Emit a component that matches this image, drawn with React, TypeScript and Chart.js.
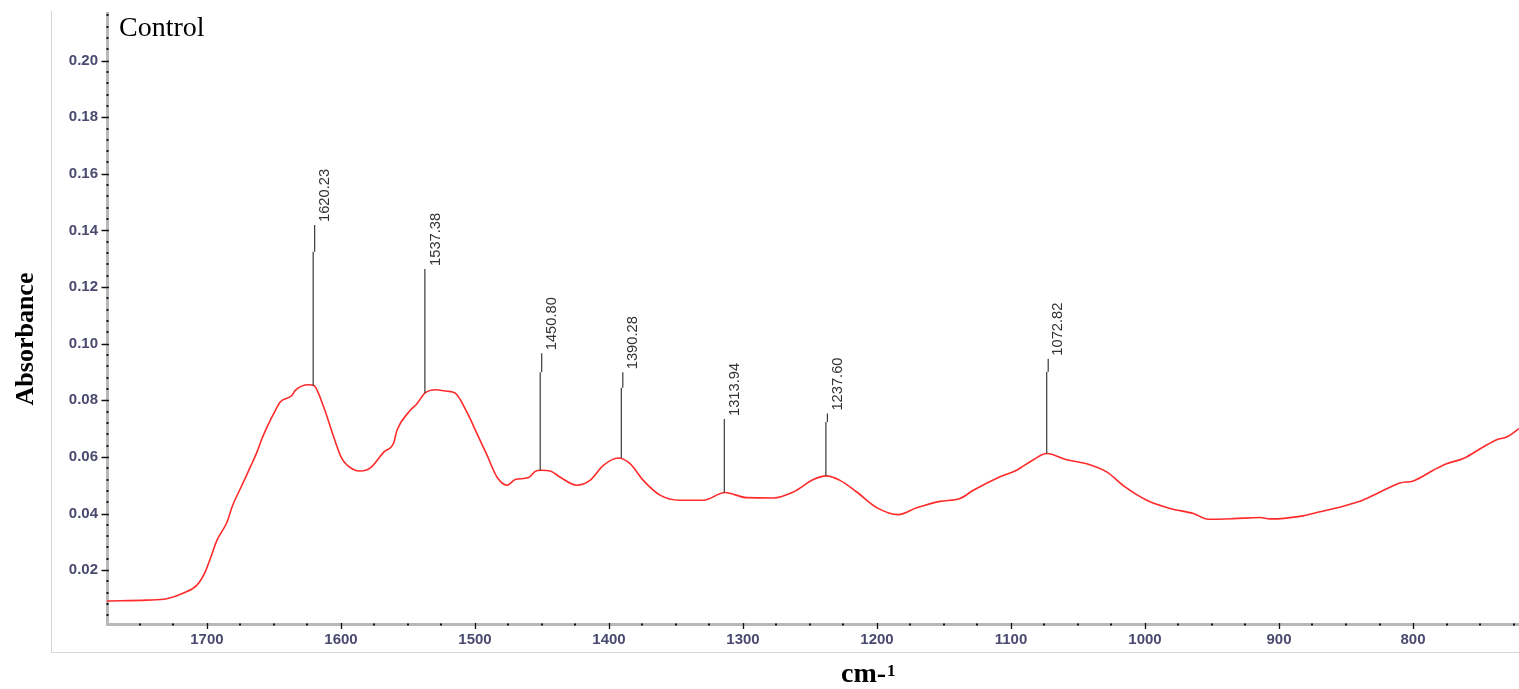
import { useEffect, useRef } from "react";
import { Chart, registerables } from "chart.js";

Chart.register(...registerables);

// Spectrum (wavenumber cm-1, absorbance)
const wavenumbers = [
  1774.6, 1745, 1730, 1717, 1707.5, 1701.3, 1697.5, 1692.5, 1685, 1681.3,
  1673.9, 1667.7, 1662.7, 1659, 1652.8, 1650.2, 1645.3, 1636.6, 1634.1, 1624.1,
  1620.2, 1612.9, 1605.4, 1599.3, 1590.5, 1585.6, 1578.1, 1568.1, 1560.7, 1558.2,
  1549.5, 1543.3, 1537.4, 1529.6, 1520.9, 1514.7, 1506, 1498.5, 1491, 1483.6,
  1476.1, 1469.9, 1459.9, 1455, 1450.8, 1443.8, 1436.6, 1424.1, 1414.2, 1404.2,
  1393.1, 1384.3, 1374.4, 1361.9, 1347, 1329.6, 1313.4, 1297.2, 1277.4, 1262.5,
  1247.5, 1238, 1227.6, 1215.1, 1200.2, 1184.1, 1170.4, 1153, 1138.1, 1128.1,
  1108.2, 1095.8, 1083.3, 1073.4, 1058.4, 1043.5, 1028.6, 1014.9, 998.7, 981.3,
  963.9, 952.7, 934.1, 914.2, 906.7, 884.3, 869.4, 852, 839.6, 827.1,
  809.7, 799.8, 784.9, 774.9, 762.5, 747.6, 737.5, 730.1, 720.9,
];
const absorbance = [
  0.0091, 0.0094, 0.0099, 0.012, 0.0147, 0.0194, 0.0241, 0.0306, 0.037, 0.0423,
  0.05, 0.0564, 0.0617, 0.0664, 0.0729, 0.0753, 0.0794, 0.0817, 0.0835, 0.0855,
  0.0852, 0.0776, 0.067, 0.0594, 0.0555, 0.055, 0.0561, 0.0617, 0.0649, 0.0694,
  0.0758, 0.0788, 0.0825, 0.0837, 0.0832, 0.0825, 0.0758, 0.0682, 0.0606, 0.0529,
  0.05, 0.052, 0.0527, 0.0549, 0.0553, 0.055, 0.0529, 0.05, 0.0517, 0.057,
  0.0596, 0.0576, 0.0517, 0.0465, 0.0447, 0.0447, 0.0474, 0.0456, 0.0455, 0.0476,
  0.052, 0.0533, 0.0517, 0.0476, 0.0421, 0.0396, 0.042, 0.0443, 0.0453, 0.0482,
  0.053, 0.0553, 0.059, 0.0612, 0.059, 0.0576, 0.0547, 0.0494, 0.0447, 0.0418,
  0.04, 0.038, 0.0382, 0.0386, 0.0381, 0.039, 0.0406, 0.0426, 0.0443, 0.047,
  0.0508, 0.0515, 0.0553, 0.0576, 0.0594, 0.0635, 0.0661, 0.067, 0.07,
];

// Peak annotations
const peakPositions = [1620.23, 1537.38, 1450.8, 1390.28, 1313.94, 1237.6, 1072.82];
const peakLabels = ["1620.23", "1537.38", "1450.80", "1390.28", "1313.94", "1237.60", "1072.82"];
const peakBase = [0.0852, 0.0826, 0.0553, 0.0596, 0.0474, 0.0533, 0.0612];
const peakTop = [0.1419, 0.1264, 0.0966, 0.0899, 0.0734, 0.0753, 0.0947];
const peakJog: (number | null)[] = [0.1325, null, 0.0899, 0.0844, null, 0.0723, 0.0901];

// Axes
const yTickValues = [0.02, 0.04, 0.06, 0.08, 0.1, 0.12, 0.14, 0.16, 0.18, 0.2];
const xTickValues = [1700, 1600, 1500, 1400, 1300, 1200, 1100, 1000, 900, 800];
const yMinorStep = 0.004;
const xMinorStep = 25;
const yMin = 0.0008;
const yMax = 0.2168;
const xMin = 720.9;
const xMax = 1774.6;

const titleY = "Absorbance";
const titleX = "cm-";
const titleXSup = "1";
const sampleName = "Control";

const SANS = '"Liberation Sans", Arial, sans-serif';
const SERIF = '"Liberation Serif", "Times New Roman", serif';

const overlayPlugin = {
  id: "overlay",
  beforeDraw(chart: any) {
    const { ctx, width, height } = chart;
    ctx.save();
    ctx.fillStyle = "#ffffff";
    ctx.fillRect(0, 0, width, height);
    ctx.strokeStyle = "#d6d6d6";
    ctx.lineWidth = 1;
    ctx.beginPath();
    ctx.moveTo(51.5, 11);
    ctx.lineTo(51.5, 652.5);
    ctx.lineTo(width, 652.5);
    ctx.stroke();
    ctx.restore();
  },
  afterDraw(chart: any) {
    const { ctx } = chart;
    const xs = chart.scales.x;
    const ys = chart.scales.y;
    const bandX = 107.5;
    const bandY = 624.5;
    ctx.save();
    // minor ticks
    ctx.fillStyle = "#111";
    for (let k = 1; k * yMinorStep <= yMax; k++) {
      if (k % 5 === 0) continue;
      const py = Math.round(ys.getPixelForValue(k * yMinorStep));
      ctx.fillRect(bandX - 1, py - 1, 2, 2);
    }
    for (let v = Math.ceil(xMin / xMinorStep) * xMinorStep; v <= xMax; v += xMinorStep) {
      if (v % 100 === 0) continue;
      const px = Math.round(xs.getPixelForValue(v));
      ctx.fillRect(px - 1, bandY - 1, 2, 2);
    }
    // major ticks
    ctx.strokeStyle = "#111";
    ctx.lineWidth = 1.3;
    ctx.beginPath();
    yTickValues.forEach((v) => {
      const py = Math.round(ys.getPixelForValue(v)) + 0.5;
      ctx.moveTo(101.5, py);
      ctx.lineTo(109, py);
    });
    xTickValues.forEach((v) => {
      const px = Math.round(xs.getPixelForValue(v)) + 0.5;
      ctx.moveTo(px, 623);
      ctx.lineTo(px, 629);
    });
    ctx.stroke();

    // peak markers
    ctx.strokeStyle = "#3a3a3a";
    ctx.lineWidth = 1.2;
    ctx.fillStyle = "#333";
    ctx.font = `14.7px ${SANS}`;
    peakPositions.forEach((pos, i) => {
      const px = xs.getPixelForValue(pos);
      const yb = ys.getPixelForValue(peakBase[i]);
      const yt = ys.getPixelForValue(peakTop[i]);
      const jog = peakJog[i];
      ctx.beginPath();
      if (jog !== null) {
        const yj = ys.getPixelForValue(jog);
        ctx.moveTo(px - 0.7, yb);
        ctx.lineTo(px - 0.7, yj);
        ctx.moveTo(px + 0.8, yj);
        ctx.lineTo(px + 0.8, yt);
      } else {
        ctx.moveTo(px, yb);
        ctx.lineTo(px, yt);
      }
      ctx.stroke();
      ctx.save();
      ctx.translate(px + 11, yt - 3);
      ctx.rotate(-Math.PI / 2);
      ctx.textAlign = "left";
      ctx.textBaseline = "middle";
      ctx.fillText(peakLabels[i], 0, 0);
      ctx.restore();
    });

    // texts
    ctx.fillStyle = "#000";
    ctx.textBaseline = "alphabetic";
    ctx.textAlign = "left";
    ctx.font = `28px ${SERIF}`;
    ctx.fillText(sampleName, 119, 36);

    ctx.save();
    ctx.translate(33, 339);
    ctx.rotate(-Math.PI / 2);
    ctx.textAlign = "center";
    ctx.font = `bold 26px ${SERIF}`;
    ctx.fillText(titleY, 0, 0);
    ctx.restore();

    ctx.font = `bold 28px ${SERIF}`;
    ctx.textAlign = "left";
    const w = ctx.measureText(titleX).width;
    ctx.fillText(titleX, 841, 682);
    ctx.font = `bold 17px ${SERIF}`;
    ctx.fillText(titleXSup, 841 + w + 1, 676);
    ctx.restore();
  },
};

export default function App() {
  const canvasRef = useRef<HTMLCanvasElement | null>(null);

  useEffect(() => {
    if (!canvasRef.current) return;
    const points = wavenumbers.map((wn, i) => ({ x: wn, y: absorbance[i] }));
    const tickFont = { family: SANS, size: 15, weight: "bold" as const };
    const chart = new Chart(canvasRef.current, {
      type: "line",
      data: {
        datasets: [
          {
            data: points,
            borderColor: "#ff2a2a",
            borderWidth: 1.6,
            pointRadius: 0,
            fill: false,
            cubicInterpolationMode: "monotone",
          },
        ],
      },
      plugins: [overlayPlugin],
      options: {
        responsive: false,
        animation: false,
        devicePixelRatio: 1,
        events: [],
        layout: { padding: { left: 0, right: 0, top: 12, bottom: 0 } },
        plugins: { legend: { display: false }, tooltip: { enabled: false }, title: { display: false } },
        scales: {
          x: {
            type: "linear",
            reverse: true,
            min: xMin,
            max: xMax,
            afterBuildTicks: (s: any) => {
              s.ticks = xTickValues.map((v) => ({ value: v }));
            },
            afterFit: (s: any) => {
              s.height = 64.5;
            },
            ticks: {
              autoSkip: false,
              maxRotation: 0,
              padding: 1,
              color: "#4a4a70",
              font: tickFont,
              callback: (v: any) => String(v),
            },
            grid: { drawOnChartArea: false, drawTicks: true, tickLength: 5, color: "rgba(0,0,0,0)" },
            border: { display: true, color: "#b8b8b8", width: 3 },
          },
          y: {
            type: "linear",
            min: yMin,
            max: yMax,
            afterBuildTicks: (s: any) => {
              s.ticks = yTickValues.map((v) => ({ value: v }));
            },
            afterFit: (s: any) => {
              s.width = 107;
            },
            ticks: {
              padding: 4,
              color: "#4a4a70",
              font: tickFont,
              callback: (v: any) => Number(v).toFixed(2),
            },
            grid: { drawOnChartArea: false, drawTicks: true, tickLength: 5, color: "rgba(0,0,0,0)" },
            border: { display: true, color: "#b8b8b8", width: 3 },
          },
        },
      },
    });
    return () => chart.destroy();
  }, []);

  return (
    <div style={{ position: "absolute", left: 0, top: 0, width: 1519, height: 689 }}>
      <canvas ref={canvasRef} width={1519} height={689} style={{ display: "block", width: 1519, height: 689 }} />
    </div>
  );
}
